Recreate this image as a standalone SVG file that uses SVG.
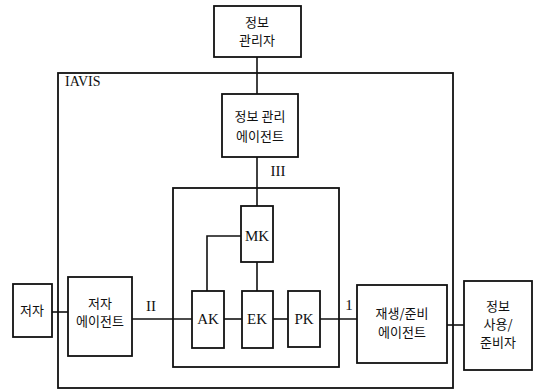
<svg xmlns="http://www.w3.org/2000/svg" width="534" height="391" viewBox="0 0 534 391">
<style>
.b{fill:#fff;stroke:#111;stroke-width:1.8}
.c{fill:none;stroke:#111;stroke-width:1.6}
.k{font-family:"Noto Sans CJK KR","Noto Sans",sans-serif;font-size:13px;fill:#111;text-anchor:middle}
.l{font-family:"Liberation Serif",serif;font-size:15px;fill:#111;text-anchor:middle}
</style>
<rect width="534" height="391" fill="#fff"/>
<g id="iavis">
<rect class="b" x="58" y="73" width="395" height="315" fill="none"/>
<text x="65" y="86" font-family="Liberation Serif,serif" font-size="14" fill="#111">IAVIS</text>
</g>
<g id="inner">
<rect class="b" x="173" y="188" width="166" height="179" fill="none"/>
</g>
<g id="connectors">
<line class="c" x1="257" y1="57" x2="257" y2="94"/>
<line class="c" x1="257" y1="157" x2="257" y2="206"/>
<polyline class="c" points="241,236 207,236 207,291"/>
<line class="c" x1="257" y1="262" x2="257" y2="291"/>
<line class="c" x1="52" y1="312" x2="68" y2="312"/>
<line class="c" x1="132" y1="319" x2="192" y2="319"/>
<line class="c" x1="224" y1="319" x2="242" y2="319"/>
<line class="c" x1="273" y1="319" x2="288" y2="319"/>
<line class="c" x1="320" y1="319" x2="357" y2="319"/>
<line class="c" x1="447" y1="325" x2="464" y2="325"/>
<text class="l" x="151" y="311" font-size="13">II</text>
<text class="l" x="349" y="310" font-size="13">1</text>
<text class="l" x="278" y="176" font-size="13">III</text>
</g>
<g id="n-manager">
<rect class="b" x="214" y="6" width="87" height="51"/>
<text class="k" x="257" y="27">정보</text>
<text class="k" x="257" y="45">관리자</text>
</g>
<g id="n-info-agent">
<rect class="b" x="222" y="94" width="76" height="63"/>
<text class="k" x="260" y="121" font-size="14">정보 관리</text>
<text class="k" x="260" y="141" font-size="14">에이전트</text>
</g>
<g id="n-mk">
<rect class="b" x="241" y="206" width="32" height="56"/>
<text class="l" x="257" y="241">MK</text>
</g>
<g id="n-ak">
<rect class="b" x="192" y="291" width="32" height="57"/>
<text class="l" x="208" y="324">AK</text>
</g>
<g id="n-ek">
<rect class="b" x="242" y="291" width="31" height="57"/>
<text class="l" x="257" y="324">EK</text>
</g>
<g id="n-pk">
<rect class="b" x="288" y="291" width="32" height="56"/>
<text class="l" x="304" y="324">PK</text>
</g>
<g id="n-author">
<rect class="b" x="13" y="284" width="39" height="53"/>
<text class="k" x="32" y="315">저자</text>
</g>
<g id="n-author-agent">
<rect class="b" x="68" y="277" width="64" height="79"/>
<text class="k" x="100" y="308">저자</text>
<text class="k" x="100" y="326">에이전트</text>
</g>
<g id="n-replay-agent">
<rect class="b" x="357" y="285" width="90" height="78"/>
<text class="k" x="402" y="318" font-size="14">재생/준비</text>
<text class="k" x="402" y="337" font-size="14">에이전트</text>
</g>
<g id="n-user">
<rect class="b" x="464" y="281" width="68" height="89"/>
<text class="k" x="498" y="311" font-size="14">정보</text>
<text class="k" x="498" y="329" font-size="14">사용/</text>
<text class="k" x="498" y="347" font-size="14">준비자</text>
</g>
</svg>
